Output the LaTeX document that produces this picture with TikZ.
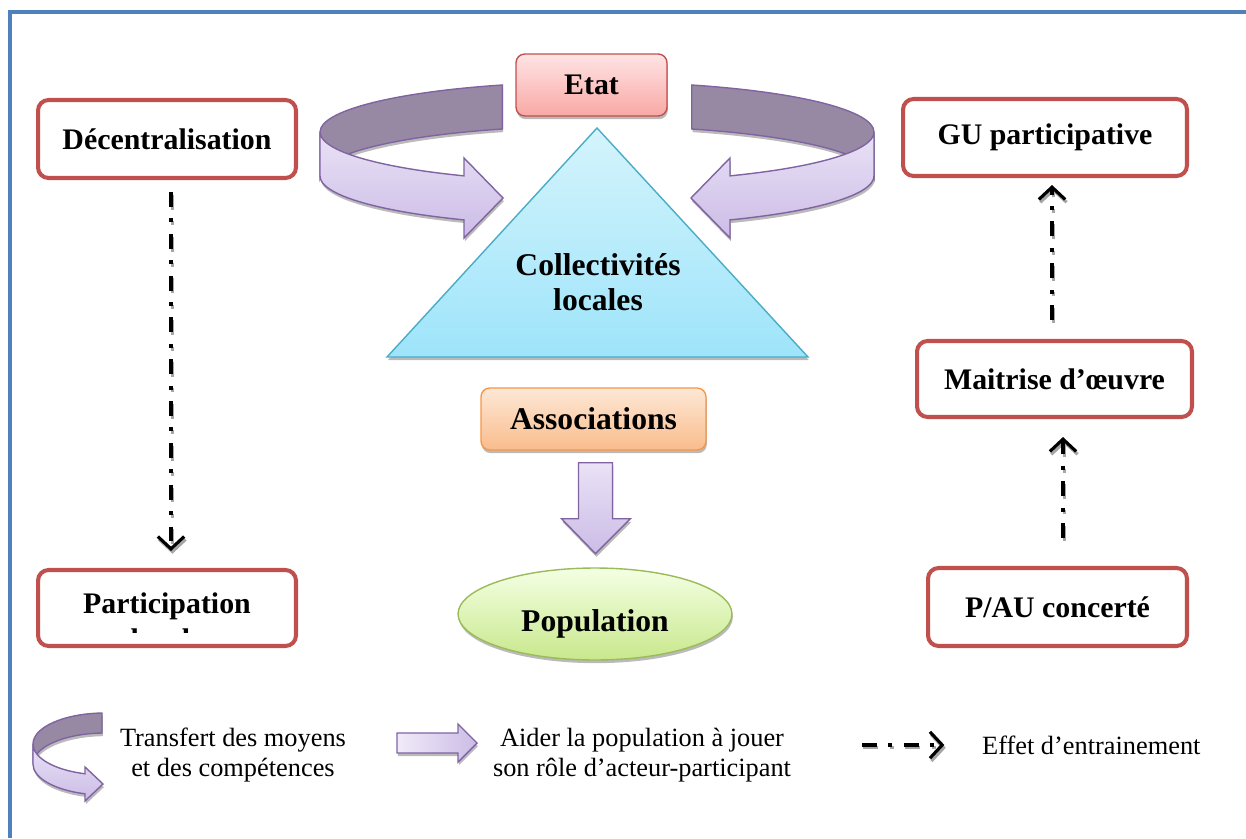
\documentclass[tikz,border=0pt]{standalone}
\usepackage{fontspec}
\setmainfont{Liberation Serif}
\usepackage{xcolor}
\usetikzlibrary{arrows.meta,calc,shadows,shapes.geometric}
\definecolor{cadrebleu}{RGB}{79,129,189}
\definecolor{rougecadre}{RGB}{192,80,77}
\definecolor{violettrait}{RGB}{128,100,162}
\definecolor{rubansombre}{RGB}{151,137,163}
\definecolor{rubanhaut}{RGB}{234,226,246}
\definecolor{rubanbas}{RGB}{203,188,230}
\definecolor{trihaut}{RGB}{212,244,252}
\definecolor{tribas}{RGB}{158,228,250}
\definecolor{tritrait}{RGB}{75,172,198}
\definecolor{etathaut}{RGB}{255,228,228}
\definecolor{etatbas}{RGB}{248,168,165}
\definecolor{assochaut}{RGB}{253,232,214}
\definecolor{assocbas}{RGB}{250,188,140}
\definecolor{assoctrait}{RGB}{247,150,70}
\definecolor{popuhaut}{RGB}{244,255,228}
\definecolor{popubas}{RGB}{200,232,140}
\definecolor{poputrait}{RGB}{155,187,89}
\tikzset{
  % texte gras des blocs
  gras/.style={font=\fontsize{17}{20.4}\selectfont\bfseries, align=center},
  grandgras/.style={font=\fontsize{18}{20.4}\selectfont\bfseries, align=center},
  % texte de la légende
  legende/.style={font=\fontsize{15}{17}\selectfont, align=center},
  % ombre portée
  ombre/.style={drop shadow={shadow xshift=0.5pt, shadow yshift=-1.8pt, opacity=0.45, fill=black!60}},
  % cadres rouges
  cadre/.style={gras, draw=rougecadre, line width=2.3pt, fill=white,
    rounded corners=6pt, inner sep=0pt},
  % blocs colorés
  etat/.style={gras, draw=rougecadre, line width=0.8pt, rounded corners=5pt,
    top color=etathaut, bottom color=etatbas, ombre},
  assoc/.style={grandgras, draw=assoctrait, line width=0.8pt, rounded corners=5pt,
    top color=assochaut, bottom color=assocbas, ombre},
  popu/.style={ellipse, draw=poputrait, line width=0.8pt,
    top color=popuhaut, bottom color=popubas, ombre},
  % rubans et flèches pleines
  rubandos/.style={draw=violettrait, line width=0.8pt, fill=rubansombre, ombre},
  rubanface/.style={draw=violettrait, line width=0.8pt, top color=rubanhaut,
    bottom color=rubanbas, ombre},
  % effet d'entrainement
  effet/.style={line width=1.8pt, dash pattern=on 8.5pt off 6.5pt on 2.3pt off 6.5pt,
    -{Straight Barb[length=7pt,width=15pt]}},
  effetombre/.style={effet, draw=black!35, transform canvas={shift={(0.8pt,-1.6pt)}}},
}

\begin{document}
\begin{tikzpicture}[x=0.02cm, y=-0.02cm]
  \path[use as bounding box] (0,0) rectangle (1246,838);

  % Cadre
  \draw[cadrebleu, line width=2.8pt] (10,838) -- (10,12) -- (1246,12);

  % Rubans gauche et droit
  \path[rubandos] (502.3,85) arc[start angle=250, end angle=180, x radius=277, y radius=50]
    -- ++(0,44) arc[start angle=180, end angle=250, x radius=277, y radius=50] -- cycle;
  \path[rubanface] (320,132) arc[start angle=180, end angle=118.7, x radius=277, y radius=50]
    -- (464,158) -- (503,198) -- (464,238) -- (464,219.9)
    arc[start angle=118.7, end angle=180, x radius=277, y radius=50] -- cycle;
  \path[rubandos] (691.7,85) arc[start angle=-70, end angle=0, x radius=277, y radius=50]
    -- ++(0,44) arc[start angle=0, end angle=-70, x radius=277, y radius=50] -- cycle;
  \path[rubanface] (874,132) arc[start angle=0, end angle=61.3, x radius=277, y radius=50]
    -- (730,158) -- (691,198) -- (730,238) -- (730,219.9)
    arc[start angle=61.3, end angle=0, x radius=277, y radius=50] -- cycle;

  % Triangle
  \path[draw=tritrait, line width=0.8pt, top color=trihaut, bottom color=tribas, ombre]
    (597,128) -- (808,357) -- (387,357) -- cycle;
  \node[grandgras, text depth=0pt] (collect) at (598,282) {Collectivités\\locales};

  % Blocs du centre
  \node[etat, minimum width=3.02cm, minimum height=1.24cm] (etat) at (591.5,85) {Etat};
  \node[assoc, minimum width=4.5cm, minimum height=1.24cm] (assoc) at (593.5,419) {Associations};
  \node[popu, minimum width=5.48cm, minimum height=1.84cm] (popu) at (595,614) {};
  \node[grandgras] (poputxt) at (595,624) {Population};

  % Flèche associations -> population
  \path[rubanface] ($(assoc.south)+(-15,12)$) -- ++(34,0) -- ++(0,56) -- ++(18,0)
    -- ++(-35,35) -- ++(-34,-35) -- ++(17,0) -- cycle;

  % Cadres rouges
  \node[cadre, minimum width=5.16cm, minimum height=1.56cm] (dec) at (167,139) {Décentralisation};
  \node[cadre, minimum width=5.16cm, minimum height=1.52cm] (part) at (167,608) {};
  \begin{scope}
    \clip (40,575) rectangle (294,632);
    \node[gras, anchor=base] (parthaut) at (167,613) {Participation};
    \node[gras, anchor=base] (partbas) at (167,649) {locale};
  \end{scope}
  \node[cadre, minimum width=5.68cm, minimum height=1.54cm] (gu) at (1045,137.5) {GU participative};
  \node[cadre, minimum width=5.5cm, minimum height=1.52cm] (mo) at (1054.5,379) {Maitrise d’œuvre};
  \node[cadre, minimum width=5.18cm, minimum height=1.56cm] (pau) at (1057.5,607) {P/AU concerté};

  % Effets d'entrainement
  \draw[effetombre] ([shift={(4,12)}]dec.south) -- ([shift={(4,-17)}]part.north);
  \draw[effet] ([shift={(4,12)}]dec.south) -- ([shift={(4,-17)}]part.north);
  \draw[effetombre] ([shift={(-2.5,-19)}]mo.north) -- ([shift={(7,7)}]gu.south);
  \draw[effet] ([shift={(-2.5,-19)}]mo.north) -- ([shift={(7,7)}]gu.south);
  \draw[effetombre] ([shift={(5.5,-28)}]pau.north) -- ([shift={(8.5,18)}]mo.south);
  \draw[effet] ([shift={(5.5,-28)}]pau.north) -- ([shift={(8.5,18)}]mo.south);

  % Légende
  \path[rubandos] (102,713) arc[start angle=267.6, end angle=180, x radius=72, y radius=31]
    -- ++(0,20) arc[start angle=180, end angle=267.6, x radius=72, y radius=31] -- cycle;
  \path[rubanface] (33,744) arc[start angle=180, end angle=106.1, x radius=72, y radius=31]
    -- (85,767) -- (103,784) -- (85,801) -- (85,793.8)
    arc[start angle=106.1, end angle=180, x radius=72, y radius=31] -- cycle;
  \node[legende] (legtransfert) at (233,755) {Transfert des moyens\\et des compétences};

  \path[draw=violettrait, line width=0.8pt, left color=rubanhaut!70!white,
      right color=rubanbas, ombre]
    (397,733) -- (458,733) -- (458,724) -- (477,743) -- (458,762) -- (458,753) -- (397,753) -- cycle;
  \node[legende] (legaider) at (642,755) {Aider la population à jouer\\son rôle d’acteur-participant};

  \coordinate (legdepart) at (862,745);
  \node[legende, anchor=west] (legeffet) at (976,745) {Effet d’entrainement};
  \draw[effetombre] (legdepart) -- ([xshift=-18]legeffet.west);
  \draw[effet] (legdepart) -- ([xshift=-18]legeffet.west);
\end{tikzpicture}
\end{document}
